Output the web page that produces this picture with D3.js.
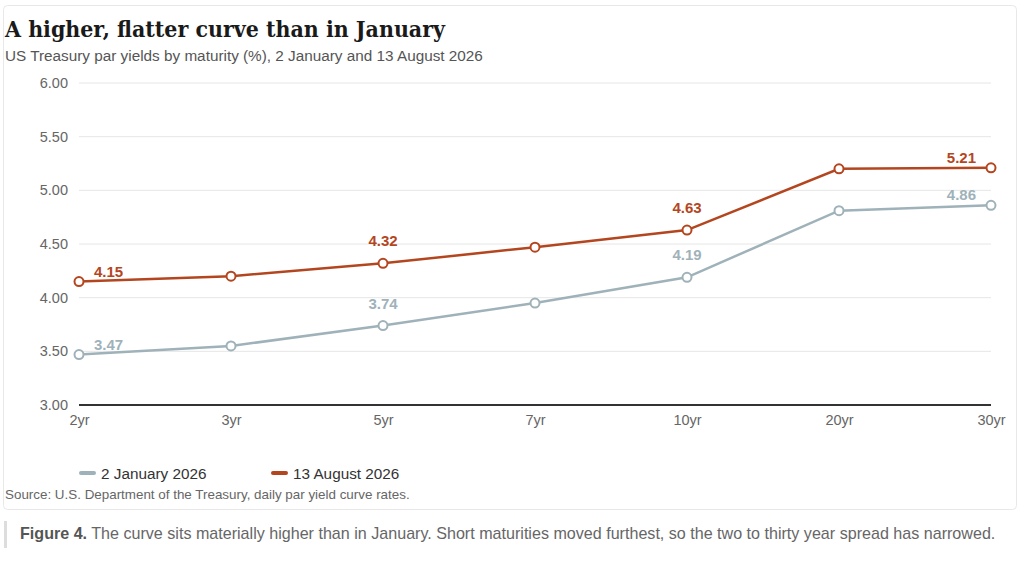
<!DOCTYPE html>
<html>
<head>
<meta charset="utf-8">
<script src="https://cdn.jsdelivr.net/npm/d3@7"></script>
<style>
  html, body { margin: 0; padding: 0; background: #fff; }
  body { width: 1024px; height: 567px; overflow: hidden; font-family: "Liberation Sans", Arial, sans-serif; }
</style>
</head>
<body>
<svg id="chart" width="1024" height="567"></svg>
<script>
// maturities and yields (%)
var maturities = ['2yr', '3yr', '5yr', '7yr', '10yr', '20yr', '30yr'];
var janYields = [3.47, 3.55, 3.74, 3.95, 4.19, 4.81, 4.86];
var augYields = [4.15, 4.20, 4.32, 4.47, 4.63, 5.20, 5.21];
var yTicks = [3.00, 3.50, 4.00, 4.50, 5.00, 5.50, 6.00];
var labelled = ['2yr', '5yr', '10yr', '30yr'];
var seriesNames = ['2 January 2026', '13 August 2026'];
var seriesColors = ['#9fb2b9', '#b4461f'];

var svg = d3.select('#chart');

// card
svg.append('rect')
  .attr('x', 3.5).attr('y', 5.5)
  .attr('width', 1013).attr('height', 504)
  .attr('rx', 4)
  .attr('fill', '#fff')
  .attr('stroke', '#e8e8e8');

svg.append('text')
  .attr('x', 5).attr('y', 37)
  .attr('font-family', '"DejaVu Serif", Georgia, serif')
  .attr('font-weight', 'bold')
  .attr('font-size', 22)
  .attr('fill', '#1a1a1a')
  .attr('textLength', 440)
  .attr('lengthAdjust', 'spacingAndGlyphs')
  .text('A higher, flatter curve than in January');

svg.append('text')
  .attr('x', 5).attr('y', 61)
  .attr('font-size', 15.3)
  .attr('fill', '#555')
  .text('US Treasury par yields by maturity (%), 2 January and 13 August 2026');

var x = d3.scalePoint().domain(maturities).range([79, 991]);
var y = d3.scaleLinear().domain([3, 6]).range([405, 83]);

// gridlines
svg.append('g')
  .selectAll('line')
  .data(yTicks.slice(1))
  .join('line')
  .attr('x1', 79).attr('x2', 991)
  .attr('y1', function(d) { return y(d); })
  .attr('y2', function(d) { return y(d); })
  .attr('stroke', '#e6e6e6')
  .attr('stroke-width', 1);

// y axis labels
var yAxis = svg.append('g')
  .attr('transform', 'translate(68,0)')
  .call(d3.axisLeft(y).tickValues(yTicks).tickFormat(d3.format('.2f')).tickSize(0).tickPadding(0));
yAxis.select('.domain').remove();
yAxis.selectAll('text')
  .attr('font-family', '"Liberation Sans", Arial, sans-serif')
  .attr('font-size', 14.5)
  .attr('fill', '#666');

// baseline
svg.append('line')
  .attr('x1', 79).attr('x2', 991)
  .attr('y1', y(3)).attr('y2', y(3))
  .attr('stroke', '#333')
  .attr('stroke-width', 2);

// x axis labels
var xAxis = svg.append('g')
  .attr('transform', 'translate(0,' + (y(3) + 6) + ')')
  .call(d3.axisBottom(x).tickSize(0).tickPadding(4));
xAxis.select('.domain').remove();
xAxis.selectAll('text')
  .attr('font-family', '"Liberation Sans", Arial, sans-serif')
  .attr('font-size', 14.5)
  .attr('fill', '#666');

var series = [janYields, augYields];
var line = d3.line()
  .x(function(d, i) { return x(maturities[i]); })
  .y(function(d) { return y(d); });

var last = maturities.length - 1;

series.forEach(function(vals, s) {
  var g = svg.append('g');
  g.append('path')
    .datum(vals)
    .attr('d', line)
    .attr('fill', 'none')
    .attr('stroke', seriesColors[s])
    .attr('stroke-width', 2.5);

  g.selectAll('circle')
    .data(vals)
    .join('circle')
    .attr('cx', function(d, i) { return x(maturities[i]); })
    .attr('cy', function(d) { return y(d); })
    .attr('r', 4.5)
    .attr('fill', '#fff')
    .attr('stroke', seriesColors[s])
    .attr('stroke-width', 2);

  g.selectAll('text')
    .data(vals.map(function(v, i) { return { m: maturities[i], v: v, i: i }; })
      .filter(function(d) { return labelled.indexOf(d.m) >= 0; }))
    .join('text')
    .attr('x', function(d) {
      if (d.i === 0) return x(d.m) + 15;
      if (d.i === last) return x(d.m) - 15;
      return x(d.m);
    })
    .attr('y', function(d) {
      return (d.i === 0 || d.i === last) ? y(d.v) - 5 : y(d.v) - 17;
    })
    .attr('text-anchor', function(d) {
      if (d.i === 0) return 'start';
      if (d.i === last) return 'end';
      return 'middle';
    })
    .attr('font-size', 15)
    .attr('font-weight', 'bold')
    .attr('fill', seriesColors[s])
    .text(function(d) { return d3.format('.2f')(d.v); });
});

// legend
var legend = svg.append('g')
  .selectAll('g')
  .data(seriesNames)
  .join('g')
  .attr('transform', function(d, i) { return 'translate(' + (81 + i * 192) + ',473)'; });
legend.append('line')
  .attr('x1', 0).attr('x2', 13)
  .attr('stroke', function(d, i) { return seriesColors[i]; })
  .attr('stroke-width', 4)
  .attr('stroke-linecap', 'round');
legend.append('text')
  .attr('x', 20).attr('y', 5.5)
  .attr('font-size', 15.3)
  .attr('fill', '#333')
  .text(function(d) { return d; });

svg.append('text')
  .attr('x', 5).attr('y', 499)
  .attr('font-size', 13.4)
  .attr('fill', '#666')
  .text('Source: U.S. Department of the Treasury, daily par yield curve rates.');

// caption
svg.append('rect')
  .attr('x', 4).attr('y', 521)
  .attr('width', 3).attr('height', 27)
  .attr('fill', '#ddd');
var cap = svg.append('text')
  .attr('x', 20).attr('y', 539)
  .attr('font-size', 16.1)
  .attr('fill', '#666');
cap.append('tspan').attr('font-weight', 'bold').attr('fill', '#555').text('Figure 4.');
cap.append('tspan').text(' The curve sits materially higher than in January. Short maturities moved furthest, so the two to thirty year spread has narrowed.');
</script>
</body>
</html>
